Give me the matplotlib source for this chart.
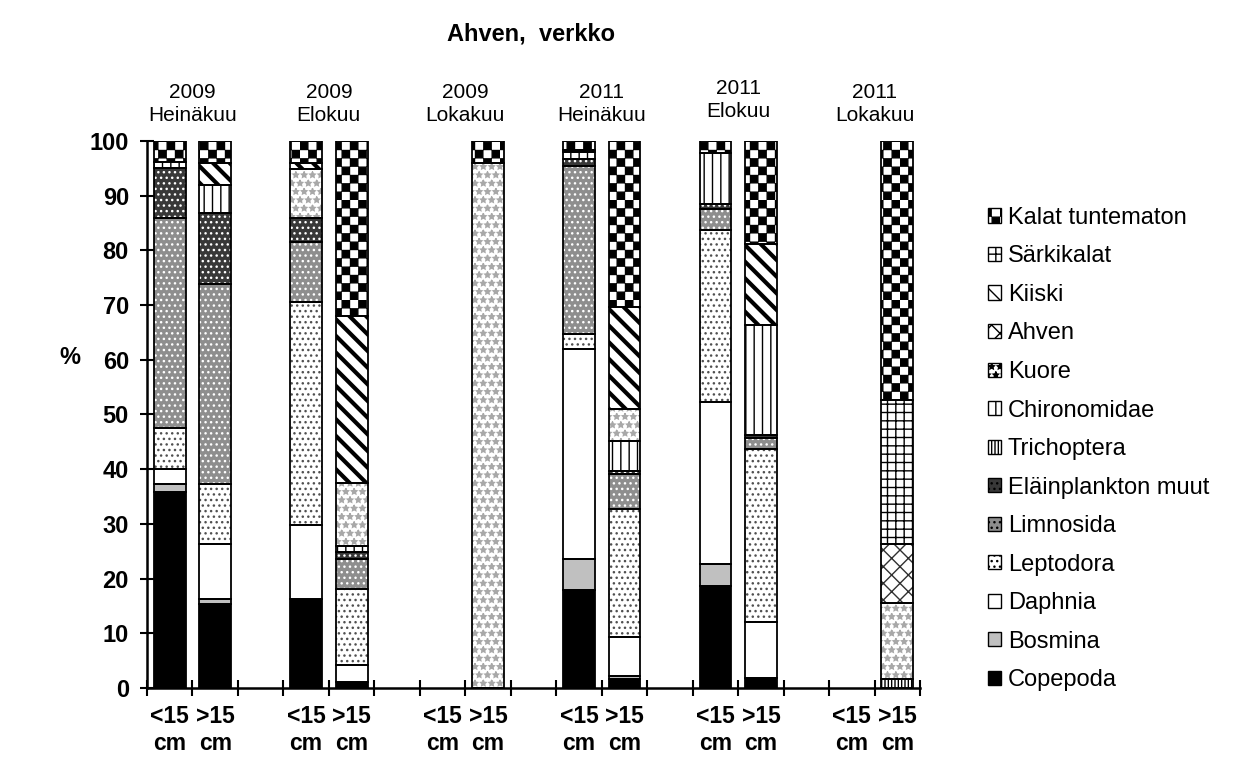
#! /usr/bin/env python

#Stacked diet composition bars (Ahven, verkko) with Excel-like fill patterns

import numpy as np
import matplotlib
matplotlib.use('Agg')
import matplotlib.pyplot as plt
import matplotlib.hatch as mhatch
from matplotlib.path import Path
from matplotlib.patches import Patch

plt.rcParams['font.family'] = ['Liberation Sans', 'DejaVu Sans']
plt.rcParams['hatch.linewidth'] = 1.0

#Data: % of diet, one value per bar
groups = ['2009\nHeinäkuu', '2009\nElokuu', '2009\nLokakuu',
          '2011\nHeinäkuu', '2011\nElokuu', '2011\nLokakuu']
sizes = ['<15\ncm', '>15\ncm']

copepoda = [35.9, 15.4, 16.3, 1.0, 0, 0, 17.9, 1.7, 18.7, 1.9, 0, 0]
bosmina = [1.3, 0.9, 0, 0, 0, 0, 5.7, 0.5, 3.9, 0, 0, 0]
daphnia = [2.9, 10.1, 13.5, 3.2, 0, 0, 38.3, 7.2, 29.6, 10.1, 0, 0]
leptodora = [7.4, 10.8, 40.8, 13.9, 0, 0, 2.9, 23.4, 31.5, 31.7, 0, 0]
limnosida = [38.5, 36.7, 11.0, 5.5, 0, 0, 30.7, 6.4, 3.8, 2.0, 0, 0]
elainplankton = [9.1, 12.9, 4.4, 1.2, 0, 0, 1.2, 0.5, 1.0, 0.6, 0, 0]
trichoptera = [0, 0, 0, 0, 0, 0, 0, 0, 0, 0, 0, 1.7]
chironomidae = [1.1, 5.1, 0, 1.1, 0, 0, 1.2, 5.5, 9.3, 20.0, 0, 0]
kuore = [0, 0, 8.8, 11.5, 0, 95.9, 0, 5.8, 0, 0, 0, 13.9]
ahven = [0, 0, 0, 0, 0, 0, 0, 0, 0, 0, 0, 10.8]
kiiski = [0, 4.1, 1.1, 30.6, 0, 0, 0.5, 18.6, 0, 14.9, 0, 0]
sarkikalat = [0, 0, 0, 0, 0, 0, 0, 0, 0, 0, 0, 26.3]
kalat = [3.8, 4.0, 4.1, 32.0, 0, 4.1, 1.6, 30.4, 2.2, 18.8, 0, 47.3]

#bottom to top
series = [('Copepoda', copepoda), ('Bosmina', bosmina), ('Daphnia', daphnia),
          ('Leptodora', leptodora), ('Limnosida', limnosida),
          ('Eläinplankton muut', elainplankton), ('Trichoptera', trichoptera),
          ('Chironomidae', chironomidae), ('Kuore', kuore), ('Ahven', ahven),
          ('Kiiski', kiiski), ('Särkikalat', sarkikalat),
          ('Kalat tuntematon', kalat)]

#facecolor, hatch, hatch color
styles = {
    'Copepoda': ('black', None, 'black'),
    'Bosmina': ('#c0c0c0', None, 'black'),
    'Daphnia': ('white', None, 'black'),
    'Leptodora': ('white', '...', '#505050'),
    'Limnosida': ('#8e8e8e', '...', 'white'),
    'Eläinplankton muut': ('#383838', '...', 'white'),
    'Trichoptera': ('white', '|||||', 'black'),
    'Chironomidae': ('white', '||', 'black'),
    'Kuore': ('white', '**', '#a8a8a8'),
    'Ahven': ('white', 'xx', '#303030'),
    'Kiiski': ('white', '\\\\', 'black'),
    'Särkikalat': ('white', '++', 'black'),
    'Kalat tuntematon': ('white', 'OO', 'black'),
}

#Checkerboard hatch, takes the place of the 'O' (large circle) hatch
class Checker(mhatch.HatchPatternBase):
    def __init__(self, hatch, density):
        self.n = hatch.count('O') * density
        self.cells = [(i, j) for i in range(self.n) for j in range(self.n) if (i + j) % 2 == 0]
        self.num_vertices = len(self.cells) * 5

    def set_vertices_and_codes(self, vertices, codes):
        s = 1.0 / self.n
        d = 0.06 * s
        sq = np.array([[d, d], [s - d, d], [s - d, s - d], [d, s - d], [d, d]])
        cc = [Path.MOVETO, Path.LINETO, Path.LINETO, Path.LINETO, Path.CLOSEPOLY]
        for k, (i, j) in enumerate(self.cells):
            vertices[k*5:(k+1)*5] = sq + [i*s, j*s]
            codes[k*5:(k+1)*5] = cc

mhatch._hatch_types = [Checker if t is mhatch.LargeCircles else t for t in mhatch._hatch_types]

#bar slots: two bars per group, one empty slot between groups
pos = np.array([g*3 + s for g in range(len(groups)) for s in range(len(sizes))])
bar_w = 0.7

f = plt.figure(figsize=(12.38, 7.65), dpi=100)
ax = f.add_axes([0.1187, 0.1007, 0.6245, 0.715])

bottom = np.zeros(len(pos))
for name, vals in series:
    vals = np.array(vals, dtype=float)
    fc, h, hc = styles[name]
    #skip empty segments so no outline is drawn for them
    m = vals > 0
    if m.any():
        bars = ax.bar(pos[m], vals[m], bar_w, bottom=bottom[m], color=fc, edgecolor=hc,
                      hatch=h, linewidth=0, zorder=2)
        if name == 'Kiiski':
            for p in bars:
                if hasattr(p, 'set_hatch_linewidth'):
                    p.set_hatch_linewidth(3.0)
        ax.bar(pos[m], vals[m], bar_w, bottom=bottom[m], fill=False, edgecolor='black',
               linewidth=1.3, zorder=3)
    bottom += vals

ax.set_xlim(-0.5, pos.max() + 0.5)
ax.set_ylim(0, 100)
ax.set_yticks(np.arange(0, 101, 10))
ax.set_xticks(pos)
ax.set_xticklabels(sizes * len(groups), fontsize=16.5, fontweight='bold', linespacing=1.25)
ax.set_xticks(np.arange(-0.5, pos.max() + 1, 1.0), minor=True)
ax.tick_params(axis='x', which='major', length=0, pad=12)
ax.tick_params(axis='x', which='minor', direction='inout', length=12, width=1.5)
ax.tick_params(axis='y', direction='inout', length=10, width=1.5, labelsize=17, pad=8)
for lab in ax.get_yticklabels():
    lab.set_fontweight('bold')
for s in ['top', 'right']:
    ax.spines[s].set_visible(False)
for s in ['left', 'bottom']:
    ax.spines[s].set_linewidth(1.8)
    ax.spines[s].set_zorder(4)

#group labels above the bars
label_dy = [0, 0, 0, 0, 4, 0]
for g, lab in enumerate(groups):
    ax.annotate(lab, xy=(g*3 + 0.5, 1.0), xycoords=('data', 'axes fraction'),
                xytext=(0, 16 + label_dy[g]), textcoords='offset pixels',
                ha='center', va='bottom', fontsize=15, linespacing=1.25)

ax.set_ylabel('%', fontsize=17, fontweight='bold', rotation=0, ha='center', va='center')
ax.yaxis.set_label_coords(-0.1, 0.605)
f.text(0.429, 0.956, 'Ahven,  verkko', ha='center', va='center', fontsize=17, fontweight='bold')

handles = [Patch(facecolor=styles[n][0], hatch=styles[n][1], edgecolor='black',
                 linewidth=1.0, label=n) for n, v in series[::-1]]
ax.legend(handles=handles, loc='center left', bbox_to_anchor=(0.798, 0.413),
          bbox_transform=f.transFigure, frameon=False, fontsize=17,
          handlelength=0.55, handleheight=0.55, handletextpad=0.3,
          labelspacing=0.7, borderpad=0, borderaxespad=0)

f.savefig('out.png', dpi=100)
